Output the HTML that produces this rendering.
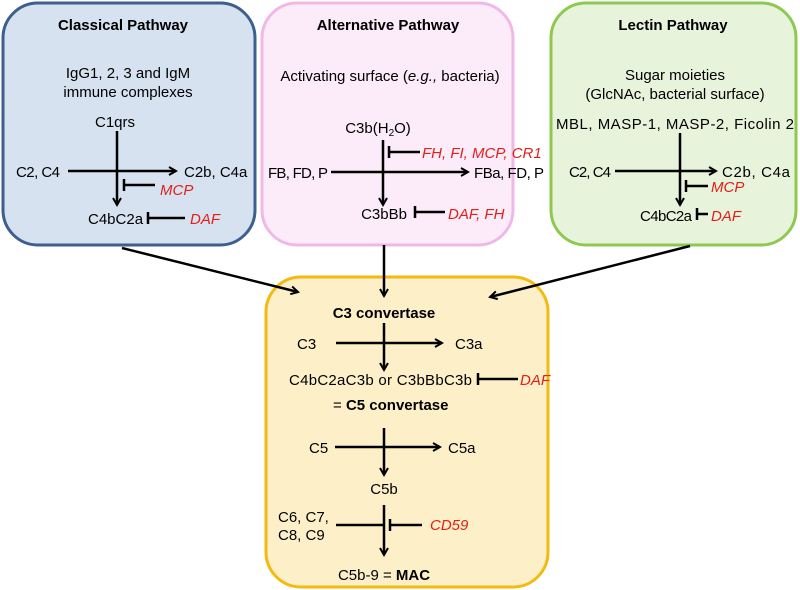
<!DOCTYPE html>
<html><head><style>body{margin:0;background:#fff}svg{display:block}text{font-family:"Liberation Sans",sans-serif;font-size:15px;fill:#000}.b{font-weight:bold}.r{fill:#e0201a;font-style:italic}</style></head><body>
<svg width="800" height="590" viewBox="0 0 800 590">
<defs><marker id="a" markerWidth="10" markerHeight="10" refX="8" refY="5" orient="auto" markerUnits="userSpaceOnUse"><path d="M1,1 L8,5 L1,9" fill="none" stroke="#000" stroke-width="2"/></marker></defs>
<rect x="3" y="3" width="252" height="242" rx="35" fill="#d6e2f0" stroke="#3d5f8d" stroke-width="3"/>
<rect x="262" y="3" width="251" height="242" rx="35" fill="#fcebf8" stroke="#f0b8e6" stroke-width="3"/>
<rect x="551" y="3" width="245" height="242" rx="35" fill="#e8f3dc" stroke="#8dc850" stroke-width="3"/>
<rect x="266" y="277" width="282" height="310" rx="35" fill="#fdf0c9" stroke="#f3ba10" stroke-width="3"/>
<g stroke="#000" stroke-width="2.5" fill="none">
<line x1="122" y1="248" x2="298" y2="292" marker-end="url(#a)"/>
<line x1="384" y1="245" x2="384" y2="296" marker-end="url(#a)"/>
<line x1="690" y1="246" x2="490" y2="297" marker-end="url(#a)"/>
<line x1="117" y1="131" x2="117" y2="205" marker-end="url(#a)"/>
<line x1="68" y1="171" x2="176" y2="171" marker-end="url(#a)"/>
<line x1="124" y1="185" x2="155" y2="185"/><line x1="124" y1="179" x2="124" y2="191"/>
<line x1="148" y1="218" x2="185" y2="218"/><line x1="148" y1="212" x2="148" y2="224"/>
<line x1="383" y1="140" x2="383" y2="205" marker-end="url(#a)"/>
<line x1="331" y1="172" x2="468" y2="172" marker-end="url(#a)"/>
<line x1="389" y1="152" x2="420" y2="152"/><line x1="389" y1="146" x2="389" y2="158"/>
<line x1="415" y1="212" x2="445" y2="212"/><line x1="415" y1="206" x2="415" y2="218"/>
<line x1="680" y1="133" x2="680" y2="205" marker-end="url(#a)"/>
<line x1="615" y1="171" x2="716" y2="171" marker-end="url(#a)"/>
<line x1="686" y1="186" x2="708" y2="186"/><line x1="686" y1="180" x2="686" y2="192"/>
<line x1="697" y1="214" x2="708" y2="214"/><line x1="697" y1="208" x2="697" y2="220"/>
<line x1="384" y1="323" x2="384" y2="370" marker-end="url(#a)"/>
<line x1="336" y1="343" x2="442" y2="343" marker-end="url(#a)"/>
<line x1="478" y1="379" x2="518" y2="379"/><line x1="478" y1="373" x2="478" y2="385"/>
<line x1="384" y1="428" x2="384" y2="475" marker-end="url(#a)"/>
<line x1="335" y1="447" x2="440" y2="447" marker-end="url(#a)"/>
<line x1="384" y1="505" x2="384" y2="555" marker-end="url(#a)"/>
<line x1="336" y1="525" x2="384" y2="525"/>
<line x1="390" y1="525" x2="422" y2="525"/><line x1="390" y1="519" x2="390" y2="531"/>
</g>
<text class="b" x="123" y="30" text-anchor="middle">Classical Pathway</text>
<text x="128" y="78" text-anchor="middle">IgG1, 2, 3 and IgM</text>
<text x="128" y="97" text-anchor="middle">immune complexes</text>
<text x="115" y="127" text-anchor="middle">C1qrs</text>
<text x="16" y="177" textLength="44">C2, C4</text>
<text x="184" y="177">C2b, C4a</text>
<text class="r" x="160" y="195">MCP</text>
<text x="88" y="224">C4bC2a</text>
<text class="r" x="190" y="224">DAF</text>
<text class="b" x="388" y="30" text-anchor="middle">Alternative Pathway</text>
<text x="390" y="81" text-anchor="middle">Activating surface (<tspan font-style="italic">e.g.,</tspan> bacteria)</text>
<text x="378" y="133" text-anchor="middle">C3b(H<tspan font-size="10" dy="3">2</tspan><tspan dy="-3">O)</tspan></text>
<text class="r" x="422" y="158">FH, FI, MCP, CR1</text>
<text x="268" y="178" textLength="60">FB, FD, P</text>
<text x="474" y="178" textLength="70">FBa, FD, P</text>
<text x="384" y="219" text-anchor="middle">C3bBb</text>
<text class="r" x="448" y="219">DAF, FH</text>
<text class="b" x="673" y="30" text-anchor="middle">Lectin Pathway</text>
<text x="675" y="80" text-anchor="middle">Sugar moieties</text>
<text x="675" y="99" text-anchor="middle">(GlcNAc, bacterial surface)</text>
<text x="675" y="129" text-anchor="middle" textLength="238">MBL, MASP-1, MASP-2, Ficolin 2</text>
<text x="569" y="177" textLength="42">C2, C4</text>
<text x="722" y="177" textLength="68">C2b, C4a</text>
<text class="r" x="711" y="192">MCP</text>
<text x="640" y="221" textLength="52">C4bC2a</text>
<text class="r" x="711" y="221">DAF</text>
<text class="b" x="384" y="318" text-anchor="middle">C3 convertase</text>
<text x="297" y="349">C3</text>
<text x="455" y="349">C3a</text>
<text x="289" y="385" textLength="183">C4bC2aC3b or C3bBbC3b</text>
<text class="r" x="520" y="385">DAF</text>
<text x="333" y="410">= <tspan class="b">C5 convertase</tspan></text>
<text x="309" y="453">C5</text>
<text x="448" y="453">C5a</text>
<text x="384" y="494" text-anchor="middle">C5b</text>
<text x="278" y="522">C6, C7,</text>
<text x="278" y="540">C8, C9</text>
<text class="r" x="430" y="530">CD59</text>
<text x="384" y="580" text-anchor="middle">C5b-9 = <tspan class="b">MAC</tspan></text>
</svg>
</body></html>
